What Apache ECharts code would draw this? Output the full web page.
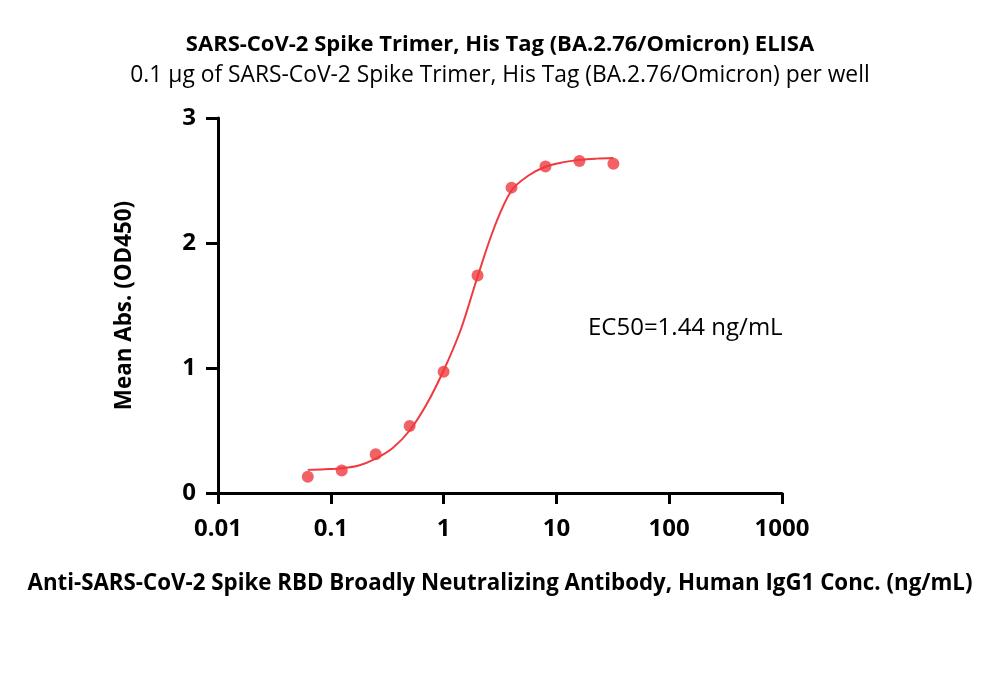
<!DOCTYPE html>
<html>
<head>
<meta charset="utf-8">
<script src="https://cdn.jsdelivr.net/npm/echarts@6/dist/echarts.min.js"></script>
<style>
  html, body { margin: 0; padding: 0; background: #fff; }
  #elisa_chart { width: 1000px; height: 685px; }
</style>
</head>
<body>
<div id="elisa_chart"></div>
<script>
// measured points (ng/mL vs OD450)
const conc = [0.0625, 0.125, 0.25, 0.5, 1, 2, 4, 8, 16, 32]
const absMean = [0.13, 0.18, 0.31, 0.536, 0.97, 1.74, 2.443, 2.612, 2.656, 2.634]
// fitted curve
const fitConc = [0.0625, 0.088, 0.125, 0.177, 0.25, 0.354, 0.5, 0.707, 1, 1.41, 2, 2.83, 4, 5.66, 8, 11.3, 16, 22.6, 32]
const fitAbs = [0.185, 0.19, 0.198, 0.22, 0.275, 0.36, 0.5, 0.71, 0.98, 1.3, 1.73, 2.13, 2.42, 2.54, 2.61, 2.645, 2.665, 2.675, 2.68]
const xTicks = [0.01, 0.1, 1, 10, 100, 1000]

const red = '#ef3a3f'
const fontFam = '"Open Sans", Lato, sans-serif'

const chartDom = document.getElementById('elisa_chart')
const myChart = echarts.init(chartDom)

const option = {
  animation: false,
  title: [
    {
      text: 'SARS-CoV-2 Spike Trimer, His Tag (BA.2.76/Omicron) ELISA',
      left: 'center',
      top: 29,
      textStyle: { fontFamily: fontFam, fontSize: 22, fontWeight: 'bold', color: '#000' },
    },
    {
      text: '0.1 μg of SARS-CoV-2 Spike Trimer, His Tag (BA.2.76/Omicron) per well',
      left: 'center',
      top: 59,
      textStyle: { fontFamily: fontFam, fontSize: 22.8, fontWeight: 'normal', color: '#000' },
    },
  ],
  grid: {
    left: 218,
    right: 218,
    top: 118,
    bottom: 192,
    containLabel: false,
  },
  xAxis: {
    type: 'log',
    logBase: 10,
    min: xTicks[0],
    max: xTicks[xTicks.length - 1],
    name: 'Anti-SARS-CoV-2 Spike RBD Broadly Neutralizing Antibody, Human IgG1 Conc. (ng/mL)',
    nameLocation: 'middle',
    nameGap: 80,
    nameTextStyle: { fontFamily: fontFam, fontSize: 22.3, fontWeight: 'bold', color: '#000' },
    axisLine: { onZero: false, lineStyle: { color: '#000', width: 3 } },
    axisTick: { length: 11, lineStyle: { color: '#000', width: 3 } },
    minorTick: { show: false },
    splitLine: { show: false },
    axisLabel: {
      margin: 24,
      fontFamily: fontFam,
      fontSize: 24,
      fontWeight: 'bold',
      color: '#000',
      formatter: v => String(+v.toPrecision(3)),
    },
  },
  yAxis: {
    type: 'value',
    min: 0,
    max: 3,
    interval: 1,
    name: 'Mean Abs. (OD450)',
    nameLocation: 'middle',
    nameGap: 82,
    nameTextStyle: { fontFamily: fontFam, fontSize: 22.4, fontWeight: 'bold', color: '#000' },
    axisLine: { show: true, lineStyle: { color: '#000', width: 3 } },
    axisTick: { show: true, length: 12, lineStyle: { color: '#000', width: 3 } },
    splitLine: { show: false },
    axisLabel: {
      margin: 22,
      fontFamily: fontFam,
      fontSize: 24,
      fontWeight: 'bold',
      color: '#000',
    },
  },
  graphic: [
    {
      type: 'text',
      left: 588,
      top: 316,
      style: { text: 'EC50=1.44 ng/mL', font: '24px ' + fontFam, fill: '#000' },
    },
  ],
  series: [
    {
      name: 'fit',
      type: 'line',
      smooth: 0.35,
      showSymbol: false,
      lineStyle: { color: red, width: 2 },
      data: fitConc.map((c, i) => [c, fitAbs[i]]),
      z: 2,
    },
    {
      name: 'mean',
      type: 'scatter',
      symbolSize: 12,
      itemStyle: { color: red },
      data: conc.map((c, i) => [c, absMean[i]]),
      z: 3,
    },
  ],
}

window.addEventListener('resize', () => {
  myChart.resize()
})
option && myChart.setOption(option)
</script>
</body>
</html>
